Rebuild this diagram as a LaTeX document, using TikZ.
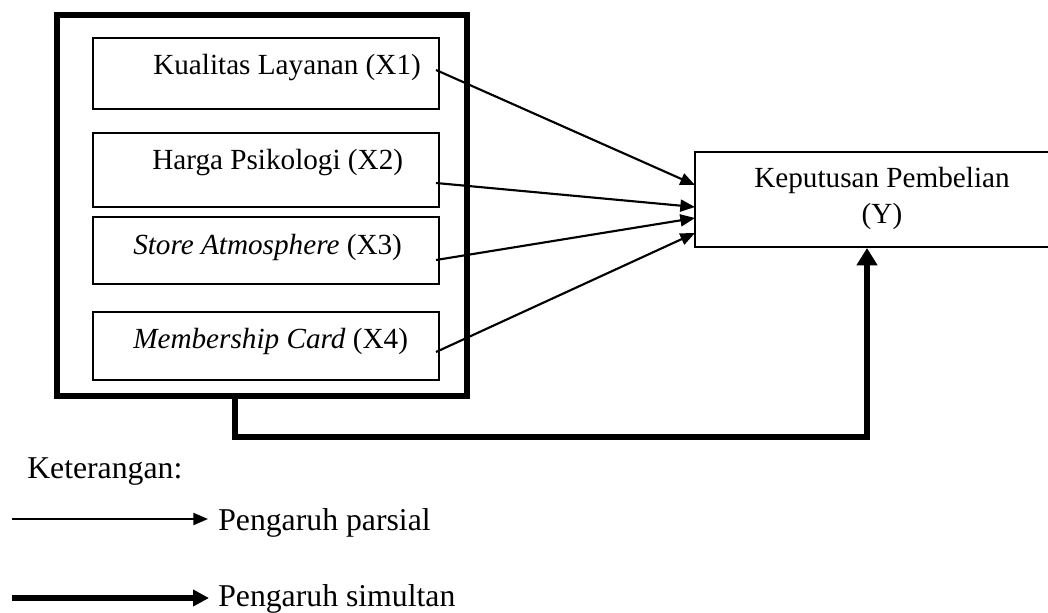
\documentclass[tikz,border=0pt]{standalone}
\usepackage{fontspec}
\setmainfont{Liberation Serif}
\usetikzlibrary{arrows.meta}
\begin{document}
\begin{tikzpicture}[x=0.75pt,y=-0.75pt,
  txt/.style={inner sep=0pt,font=\fontsize{21.9}{26}\selectfont},
  legtxt/.style={inner sep=0pt,font=\fontsize{23.8}{28}\selectfont},
  varbox/.style={draw,line width=1.5pt,minimum width=346*0.75pt,inner sep=0pt},
  partial/.style={line width=1.6pt,-{Triangle[length=11pt,width=9pt]}},
  simult/.style={line width=4.2pt,-{Triangle[length=13pt,width=15pt]}},
  simultleg/.style={line width=4.2pt,-{Triangle[length=12pt,width=12pt]}}]
\clip (0,0) rectangle (1048,613);
% outer group box
\draw[line width=4.2pt] (57,15) rectangle (467,396);
\coordinate (og) at (235,396);
% variable boxes
\node[varbox,minimum height=71*0.75pt] (x1) at (266,73.5) {};
\node[varbox,minimum height=74*0.75pt] (x2) at (266,170) {};
\node[varbox,minimum height=67*0.75pt] (x3) at (266,250.5) {};
\node[varbox,minimum height=68*0.75pt] (x4) at (266,346) {};
\node[txt,anchor=west] (t1) at (153,68) {Kualitas Layanan (X1)};
\node[txt,anchor=west] (t2) at (152,163) {Harga Psikologi (X2)};
\node[txt,anchor=west] (t3) at (133,247) {\textit{Store Atmosphere} (X3)};
\node[txt,anchor=west] (t4) at (133,341) {\textit{Membership Card} (X4)};
% dependent box
\node[draw,line width=1.5pt,minimum width=374*0.75pt,minimum height=95*0.75pt,inner sep=0pt] (y) at (882,199.5) {};
\node[txt,align=center] (ty) at (882,198) {Keputusan Pembelian\\[1pt](Y)};
% partial arrows
\coordinate (s1) at (436,70);
\coordinate (s2) at (436,183);
\coordinate (s3) at (436,260);
\coordinate (s4) at (436,352);
\coordinate (e1) at (695,185);
\coordinate (e2) at (695,207);
\coordinate (e3) at (695,218);
\coordinate (e4) at (695,233);
\draw[partial] (s1) -- (e1);
\draw[partial] (s2) -- (e2);
\draw[partial] (s3) -- (e3);
\draw[partial] (s4) -- (e4);
% simultaneous arrow
\coordinate (c1) at (235,437);
\coordinate (c2) at (867,437);
\coordinate (ye) at (867,248);
\draw[simult,line join=miter] (og) -- (c1) -- (c2) -- (ye);
% legend
\node[legtxt,anchor=west] (ket) at (27,472) {Keterangan:};
\coordinate (l1a) at (12,519);
\coordinate (l1b) at (208,519);
\coordinate (l2a) at (12,598);
\coordinate (l2b) at (209,598);
\draw[partial] (l1a) -- (l1b);
\draw[simultleg] (l2a) -- (l2b);
\node[legtxt,anchor=west] (lp) at (218,523) {Pengaruh parsial};
\node[legtxt,anchor=west] (ls) at (218,599) {Pengaruh simultan};
\end{tikzpicture}
\end{document}
